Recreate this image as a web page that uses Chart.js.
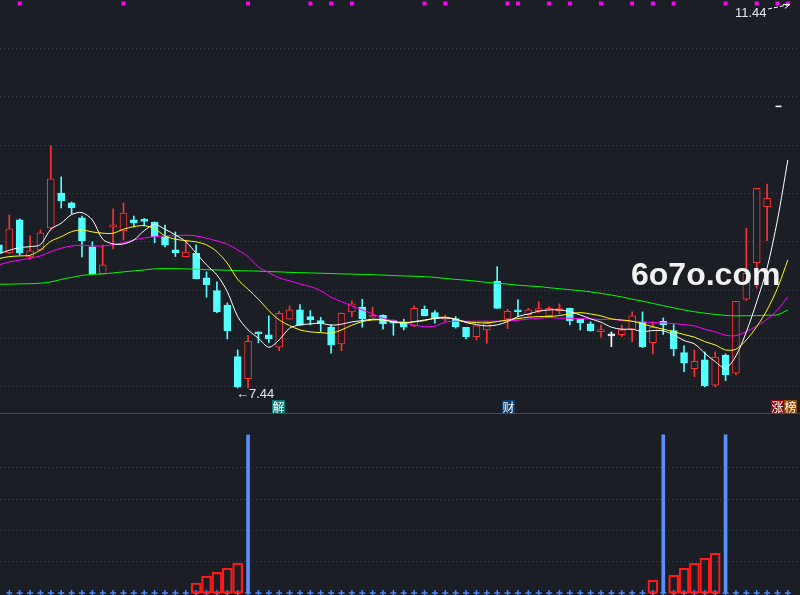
<!DOCTYPE html>
<html>
<head>
<meta charset="utf-8">
<script src="https://cdn.jsdelivr.net/npm/chart.js@4"></script>
<style>
html, body { margin: 0; padding: 0; background: #1c1e26; width: 800px; height: 595px; overflow: hidden; }
#wrap { position: relative; width: 800px; height: 595px; }
canvas { position: absolute; left: 0; }
#kline { top: 0; }
#sig { top: 413px; }
.sep { position: absolute; left: 0; top: 413px; width: 800px; height: 1px; background: #484a51; }
.lbl { position: absolute; font: 13px "Liberation Sans", Arial, sans-serif; line-height: 13px; color: #e3e9f2; white-space: nowrap; }
.tag { position: absolute; top: 400px; width: 13px; height: 13px; font: 12px "Noto Sans CJK SC", sans-serif; line-height: 13px; color: #fff; text-align: center; }
.wm { position: absolute; left: 631px; top: 258px; font: bold 32px "Liberation Sans", Arial, sans-serif; line-height: 32px; color: #f2f2f2; white-space: nowrap; }
</style>
</head>
<body>
<div id="wrap">
  <canvas id="kline" width="800" height="413"></canvas>
  <canvas id="sig" width="800" height="182"></canvas>
  <div class="sep"></div>
  <div class="lbl" style="left:236px;top:387px">←7.44</div>
  <div class="lbl" style="left:735px;top:6px">11.44</div>
  <div class="tag" style="left:272px;background:#0b7b78">解</div>
  <div class="tag" style="left:502px;background:#0b3c6e">财</div>
  <div class="tag" style="left:771px;background:#8a0c0c">涨</div>
  <div class="tag" style="left:784px;background:#8a4a0c">榜</div>
  <div class="wm">6o7o.com</div>
</div>
<script>
// bar index of the first candle (it is cut off at the left edge)
const firstIdx = -1;

// daily OHLC, bars -1 .. 73
const open = [8.918, 8.835, 9.176, 8.794, 8.866, 9.093, 9.455, 9.352, 9.197, 8.897, 8.618, 9.104, 9.062, 9.176, 9.176, 9.155, 9.003, 8.866, 8.797, 8.832,
  8.577, 8.445, 8.297, 7.763, 7.536, 8.019, 7.988, 7.860, 8.150, 8.246, 8.177, 8.135, 8.067, 7.894, 8.225, 8.274, 8.170, 8.191, 8.135, 8.122,
  8.080, 8.253, 8.218, 8.150, 8.156, 8.067, 7.970, 8.039, 8.542, 8.150, 8.232, 8.197, 8.239, 8.187, 8.239, 8.263, 8.150, 8.101, 8.022, 7.977,
  7.991, 8.046, 8.122, 7.908, 8.129, 8.032, 7.804, 7.639, 7.729, 7.467, 7.780, 7.591, 8.356, 8.735, 9.314];
const high = [8.938, 9.228, 9.187, 9.011, 9.073, 9.941, 9.621, 9.362, 9.217, 8.949, 8.918, 9.290, 9.352, 9.217, 9.192, 9.155, 9.124, 9.052, 8.969, 8.918,
  8.639, 8.535, 8.318, 7.832, 7.981, 8.019, 8.184, 8.232, 8.287, 8.301, 8.239, 8.170, 8.094, 8.215, 8.341, 8.356, 8.274, 8.194, 8.142, 8.150,
  8.287, 8.287, 8.239, 8.194, 8.177, 8.067, 8.080, 8.125, 8.693, 8.253, 8.349, 8.263, 8.329, 8.280, 8.308, 8.266, 8.153, 8.122, 8.091, 8.018,
  8.088, 8.225, 8.225, 8.122, 8.163, 8.094, 7.874, 7.832, 7.811, 7.811, 7.791, 8.335, 9.090, 9.504, 9.548];
const low = [8.814, 8.825, 8.814, 8.773, 8.856, 9.083, 9.300, 9.238, 8.794, 8.618, 8.618, 8.876, 8.969, 9.104, 9.114, 8.941, 8.897, 8.797, 8.797, 8.566,
  8.377, 8.218, 7.946, 7.440, 7.440, 7.905, 7.908, 7.825, 8.150, 8.088, 8.091, 8.022, 7.798, 7.825, 8.177, 8.067, 8.170, 8.046, 7.984, 8.039,
  8.073, 8.184, 8.108, 8.125, 8.057, 7.946, 7.936, 7.901, 8.260, 8.053, 8.177, 8.184, 8.218, 8.187, 8.204, 8.091, 8.039, 8.026, 7.964, 7.866,
  7.970, 7.918, 7.856, 7.791, 7.991, 7.770, 7.608, 7.556, 7.450, 7.450, 7.515, 7.576, 8.342, 8.470, 8.962];
const close = [8.835, 9.083, 8.835, 8.856, 9.042, 9.600, 9.372, 9.300, 8.959, 8.618, 8.711, 9.124, 9.248, 9.145, 9.161, 9.003, 8.915, 8.838, 8.845, 8.569,
  8.507, 8.225, 8.029, 7.450, 7.922, 7.998, 7.946, 8.211, 8.246, 8.088, 8.143, 8.108, 7.881, 8.211, 8.308, 8.156, 8.191, 8.101, 8.108, 8.067,
  8.263, 8.184, 8.156, 8.173, 8.073, 7.970, 8.080, 8.108, 8.260, 8.232, 8.227, 8.246, 8.253, 8.263, 8.260, 8.135, 8.115, 8.032, 8.039, 7.977,
  8.039, 8.184, 7.866, 8.067, 8.094, 7.846, 7.696, 7.715, 7.460, 7.757, 7.574, 8.335, 8.625, 9.504, 9.400];

// moving averages, bars -1 .. 75
const ma5 = [8.825, 8.863, 8.890, 8.900, 8.921, 9.080, 9.142, 9.231, 9.252, 9.176, 8.977, 8.928, 8.928, 8.969, 9.066, 9.128, 9.080, 9.021, 8.952, 8.832,
  8.711, 8.608, 8.435, 8.177, 8.039, 7.953, 7.860, 7.936, 8.057, 8.091, 8.101, 8.108, 8.088, 8.098, 8.122, 8.135, 8.150, 8.142, 8.122, 8.108,
  8.125, 8.142, 8.156, 8.163, 8.150, 8.115, 8.094, 8.080, 8.091, 8.125, 8.177, 8.204, 8.232, 8.246, 8.246, 8.228, 8.194, 8.153, 8.119, 8.067,
  8.046, 8.046, 8.022, 8.032, 8.029, 7.987, 7.929, 7.894, 7.798, 7.711, 7.643, 7.770, 8.019, 8.329, 8.680, 9.176, 9.796];
const ma10 = [8.776, 8.797, 8.804, 8.811, 8.866, 8.956, 9.003, 9.055, 9.073, 9.052, 9.039, 9.039, 9.080, 9.107, 9.117, 9.086, 9.011, 8.977, 8.962, 8.949,
  8.918, 8.848, 8.729, 8.563, 8.460, 8.356, 8.239, 8.142, 8.084, 8.039, 8.019, 8.011, 8.005, 8.039, 8.088, 8.125, 8.142, 8.142, 8.125, 8.115,
  8.122, 8.135, 8.163, 8.170, 8.150, 8.122, 8.115, 8.112, 8.125, 8.142, 8.156, 8.170, 8.177, 8.177, 8.187, 8.204, 8.218, 8.204, 8.184, 8.153,
  8.142, 8.129, 8.101, 8.073, 8.046, 8.022, 7.991, 7.964, 7.918, 7.884, 7.832, 7.840, 7.936, 8.073, 8.246, 8.470, 8.763];
const ma20 = [8.711, 8.742, 8.760, 8.780, 8.804, 8.848, 8.884, 8.907, 8.915, 8.907, 8.907, 8.921, 8.941, 8.969, 8.990, 9.003, 9.011, 9.014, 9.018, 9.011,
  8.987, 8.959, 8.925, 8.866, 8.797, 8.690, 8.631, 8.577, 8.546, 8.515, 8.487, 8.445, 8.377, 8.332, 8.287, 8.246, 8.204, 8.160, 8.135, 8.115,
  8.088, 8.073, 8.077, 8.119, 8.129, 8.129, 8.129, 8.129, 8.129, 8.132, 8.139, 8.150, 8.160, 8.166, 8.160, 8.160, 8.156, 8.153, 8.146, 8.150,
  8.135, 8.129, 8.122, 8.115, 8.112, 8.104, 8.094, 8.080, 8.046, 8.019, 7.984, 7.980, 8.022, 8.080, 8.150, 8.246, 8.383];
const ma60 = [8.512, 8.512, 8.515, 8.517, 8.522, 8.535, 8.561, 8.582, 8.602, 8.613, 8.618, 8.628, 8.639, 8.649, 8.659, 8.670, 8.673, 8.673, 8.670, 8.667,
  8.662, 8.659, 8.656, 8.652, 8.649, 8.647, 8.642, 8.639, 8.634, 8.631, 8.628, 8.625, 8.622, 8.618, 8.616, 8.613, 8.610, 8.606, 8.601, 8.597,
  8.594, 8.590, 8.582, 8.571, 8.561, 8.553, 8.543, 8.530, 8.522, 8.513, 8.502, 8.494, 8.487, 8.475, 8.465, 8.455, 8.444, 8.432, 8.416, 8.399,
  8.380, 8.357, 8.336, 8.313, 8.289, 8.267, 8.246, 8.227, 8.212, 8.199, 8.189, 8.184, 8.186, 8.187, 8.191, 8.196, 8.246];

// magenta flags along the top edge
const flagIdx = [1, 11, 23, 29, 31, 33, 40, 42, 48, 49, 52, 54, 57, 60, 62, 64, 69, 72, 74, 75];
const flagLevel = 11.413;

// lower panel: signal spikes and the red step bars before them
const sigIdx = [23, 63, 69];
const sigVal = [5.05, 5.05, 5.05];
const rampIdx = [18, 19, 20, 21, 22, 62, 64, 65, 66, 67, 68];
const rampVal = [0.32, 0.54, 0.66, 0.79, 0.95, 0.41, 0.57, 0.79, 0.95, 1.11, 1.27];
const dotIdx = Array.from({ length: 76 }, (_, k) => k);

const gridPrice = [7.45, 7.95, 8.45, 8.95, 9.45, 9.95, 10.45, 10.95];
const gridSig = [1, 2, 3, 4];

const UP = '#ff3232', DOWN = '#54ffff', FLAT = '#ffffff', BG = '#1c1e26';
const X_MIN = -0.896, X_MAX = 76.17;

const barColor = open.map((o, k) => close[k] > o ? UP : close[k] < o ? DOWN : FLAT);
const bodyFill = barColor.map(c => c === UP ? BG : c);

function maLine(label, values, color) {
    return {
        type: 'line',
        label,
        data: values.map((v, k) => ({ x: k + firstIdx, y: v })),
        borderColor: color,
        borderWidth: 1,
        pointRadius: 0,
        tension: 0.3,
        order: 0
    };
}

function gridScale(min, max, ticks) {
    return {
        min, max,
        afterBuildTicks: axis => { axis.ticks = ticks.map(v => ({ value: v })); },
        ticks: { display: false },
        grid: { color: '#3b4350', drawTicks: false, lineWidth: 1 },
        border: { display: false, dash: [1, 3] }
    };
}

// dashed pointer from the 11.44 label up to the off-chart high
const maxArrow = {
    id: 'maxArrow',
    afterDatasetsDraw(chart) {
        const { ctx, scales: { x, y } } = chart;
        const x0 = x.getPixelForValue(73.1), y0 = y.getPixelForValue(11.357);
        const x1 = x.getPixelForValue(75.2), y1 = y.getPixelForValue(11.404);
        ctx.save();
        ctx.strokeStyle = '#ffffff';
        ctx.lineWidth = 1;
        ctx.setLineDash([4, 2]);
        ctx.beginPath();
        ctx.moveTo(x0, y0);
        ctx.lineTo(x1, y1);
        ctx.stroke();
        ctx.setLineDash([]);
        ctx.beginPath();
        ctx.moveTo(x1 - 7, y1);
        ctx.lineTo(x1, y1);
        ctx.lineTo(x1 - 5, y1 + 4);
        ctx.stroke();
        ctx.restore();
    }
};

const baseOptions = {
    responsive: false,
    animation: false,
    events: [],
    layout: { padding: 0, autoPadding: false },
    plugins: { legend: { display: false }, tooltip: { enabled: false } }
};

new Chart(document.getElementById('kline'), {
    type: 'bar',
    data: {
        datasets: [
            maLine('MA5', ma5, '#ffffff'),
            maLine('MA10', ma10, '#ffff00'),
            maLine('MA20', ma20, '#ff00ff'),
            maLine('MA60', ma60, '#00ff00'),
            {
                type: 'scatter',
                data: flagIdx.map(i => ({ x: i, y: flagLevel })),
                pointStyle: 'rect',
                pointRadius: 2.8,
                backgroundColor: '#ff00ff',
                borderWidth: 0,
                order: 0
            },
            {
                type: 'scatter',
                data: [{ x: 74.1, y: 10.35 }],
                pointStyle: 'line',
                pointRadius: 3,
                borderColor: '#ffffff',
                borderWidth: 1.5,
                order: 0
            },
            {
                label: 'body',
                data: open.map((o, k) => ({ x: k + firstIdx, y: [o, close[k]] })),
                backgroundColor: bodyFill,
                borderColor: barColor,
                borderWidth: 1,
                borderSkipped: false,
                barThickness: 7,
                minBarLength: 2,
                grouped: false,
                order: 1
            },
            {
                label: 'wick',
                data: low.map((l, k) => ({ x: k + firstIdx, y: [l, high[k]] })),
                backgroundColor: barColor,
                borderWidth: 0,
                barThickness: 1,
                grouped: false,
                order: 2
            }
        ]
    },
    options: {
        ...baseOptions,
        scales: {
            x: { type: 'linear', min: X_MIN, max: X_MAX, offset: false, display: false },
            y: gridScale(7.18, 11.45, gridPrice)
        }
    },
    plugins: [maxArrow]
});

new Chart(document.getElementById('sig'), {
    type: 'bar',
    data: {
        datasets: [
            {
                data: sigIdx.map((i, k) => ({ x: i, y: sigVal[k] })),
                backgroundColor: '#5b8ff9',
                barThickness: 3,
                grouped: false,
                order: 0
            },
            {
                data: rampIdx.map((i, k) => ({ x: i, y: rampVal[k] })),
                backgroundColor: 'rgba(0,0,0,0)',
                borderColor: '#ff1a1a',
                borderWidth: 1.5,
                borderSkipped: false,
                barThickness: 10,
                grouped: false,
                order: 0
            },
            {
                type: 'scatter',
                data: dotIdx.map(i => ({ x: i, y: 0 })),
                pointStyle: 'cross',
                pointRadius: 3,
                borderColor: '#4a8af4',
                borderWidth: 1.5,
                order: 1
            }
        ]
    },
    options: {
        ...baseOptions,
        scales: {
            x: { type: 'linear', min: X_MIN, max: X_MAX, offset: false, display: false },
            y: gridScale(-0.064, 5.751, gridSig)
        }
    }
});
</script>
</body>
</html>
